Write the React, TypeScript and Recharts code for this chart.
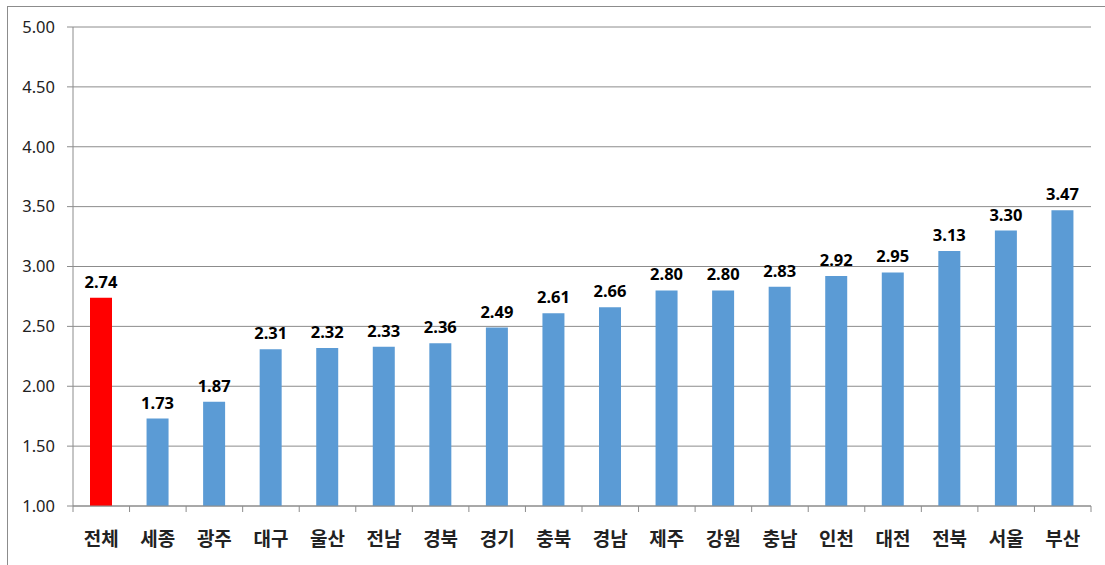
import React from "react";
import { BarChart, Bar, Cell, XAxis, YAxis, CartesianGrid, LabelList } from "recharts";

const REGIONS = ["전체", "세종", "광주", "대구", "울산", "전남", "경북", "경기", "충북", "경남", "제주", "강원", "충남", "인천", "대전", "전북", "서울", "부산"];
const SCORES = [2.74, 1.73, 1.87, 2.31, 2.32, 2.33, 2.36, 2.49, 2.61, 2.66, 2.8, 2.8, 2.83, 2.92, 2.95, 3.13, 3.3, 3.47];
const Y_TICKS = [1, 1.5, 2, 2.5, 3, 3.5, 4, 4.5, 5];
const HIGHLIGHT = "전체";

const BLUE = "#5b9bd5";
const RED = "#ff0000";
const GRID = "#8c8c8c";

const rows = REGIONS.map((name, i) => ({ name, score: SCORES[i] }));

function CategoryTick(props: any) {
  const { x, y, payload, index } = props;
  const half = payload.offset ?? 0;
  const last = index === REGIONS.length - 1;
  return (
    <g>
      <line x1={x - half} x2={x - half} y1={y - 8} y2={y - 2} stroke={GRID} />
      {last && <line x1={x + half} x2={x + half} y1={y - 8} y2={y - 2} stroke={GRID} />}
      <text x={x} y={y + 32} textAnchor="middle" fontSize={19} fontWeight="bold"
        fontFamily="'Noto Sans CJK KR', sans-serif" fill="#222">
        {payload.value}
      </text>
    </g>
  );
}

export default function App() {
  return (
    <div style={{ position: "absolute", left: 0, top: 0, width: 1105, height: 565, overflow: "hidden", background: "#fff" }}>
      <div style={{ position: "absolute", left: 7, top: 6, width: 1098, height: 559, borderTop: "1px solid #8c8c8c", borderLeft: "1px solid #8c8c8c" }} />
      <BarChart width={1105} height={565} data={rows} margin={{ top: 27, right: 14, bottom: 0, left: 0 }}
        barCategoryGap="0%" style={{ position: "absolute", left: 0, top: 0 }}>
        <CartesianGrid vertical={false} stroke={GRID} />
        <XAxis dataKey="name" height={59} axisLine={{ stroke: GRID }} tickLine={false} interval={0}
          tick={<CategoryTick />} />
        <YAxis domain={[1, 5]} ticks={Y_TICKS} width={73} tickSize={6} tickMargin={12}
          axisLine={{ stroke: GRID }} tickLine={{ stroke: GRID }}
          tickFormatter={(v: number) => v.toFixed(2)}
          tick={{ fontSize: 16.5, fill: "#222", fontFamily: "'Noto Sans', sans-serif" }} />
        <Bar dataKey="score" barSize={22} isAnimationActive={false}>
          {rows.map((r) => <Cell key={r.name} fill={r.name === HIGHLIGHT ? RED : BLUE} />)}
          <LabelList dataKey="score" position="top" offset={10}
            formatter={(v: any) => Number(v).toFixed(2)}
            style={{ fontSize: 16.5, fontWeight: "bold", fill: "#000", fontFamily: "'Noto Sans', sans-serif" }} />
        </Bar>
      </BarChart>
    </div>
  );
}
